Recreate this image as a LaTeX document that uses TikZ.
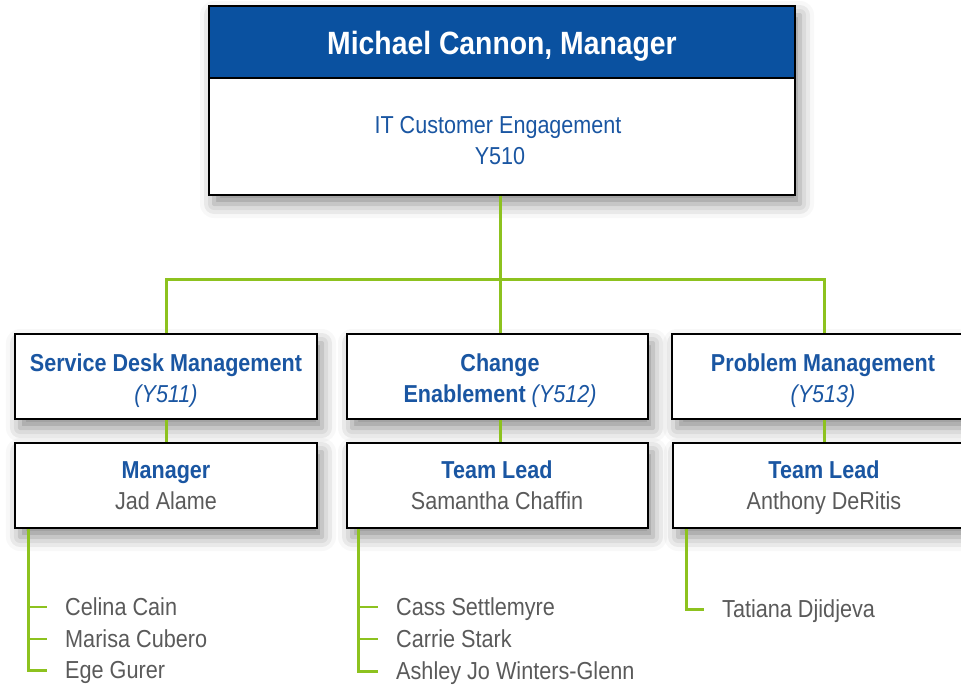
\documentclass[tikz,border=0pt]{standalone}
\usepackage{fontspec}
\setmainfont{Liberation Sans}[FakeStretch=0.88]
\usetikzlibrary{shadows.blur}
\definecolor{hdrblue}{HTML}{0A51A0}
\definecolor{txtblue}{HTML}{1A56A2}
\definecolor{lgreen}{HTML}{8DC21F}
\definecolor{gtext}{HTML}{5A5A5A}
\begin{document}
\begin{tikzpicture}[x=1pt,y=-1pt,
  box/.style={draw=black, line width=2pt, fill=white, inner sep=0pt,
    blur shadow={shadow xshift=5pt, shadow yshift=-9pt, shadow blur radius=14pt, shadow opacity=45}},
  conn/.style={draw=lgreen, line width=3pt},
  tick/.style={draw=lgreen, line width=2.5pt},
  ln/.style={inner sep=0pt, text height=17pt, text depth=0pt, font=\fontsize{24.5}{30}\selectfont},
  ttl/.style={ln, text=txtblue, font=\fontsize{24.5}{30}\selectfont\bfseries},
  code/.style={ln, text=txtblue, font=\fontsize{24.5}{30}\selectfont\itshape},
  person/.style={ln, text=gtext},
  staff/.style={ln, anchor=west, text=gtext, font=\fontsize{24.6}{30}\selectfont}]
\useasboundingbox (0,0) rectangle (961,688);
% top box
\node[box, minimum width=586pt, minimum height=189pt] (topbox) at (502,100.5) {};
\node[draw=black, line width=2pt, fill=hdrblue, minimum width=586pt, minimum height=72pt, inner sep=0pt] (hdr) at (502,42) {};
\node[inner sep=0pt, text height=22pt, text depth=0pt, text=white, font=\fontsize{32.2}{34}\selectfont\bfseries] (hdrt) at (502,43) {Michael Cannon, Manager};
\node[ln, text=txtblue] (dept) at (498,125) {IT Customer Engagement};
\node[ln, text=txtblue] (deptc) at (500,156) {Y510};
% bus
\coordinate (bus) at (500,279);
\coordinate (topout) at (500,196);
% upper boxes
\node[box, minimum width=302pt, minimum height=85pt] (u1) at (166,376.5) {};
\node[box, minimum width=301pt, minimum height=85pt] (u2) at (497.5,376.5) {};
\node[box, minimum width=302pt, minimum height=85pt] (u3) at (823,376.5) {};
\node[ttl] (u1a) at (166,363) {Service Desk Management};
\node[code] (u1b) at (166,394) {(Y511)};
\node[ttl] (u2a) at (500,363) {Change};
\node[ln, text=txtblue] (u2b) at (500,394) {\bfseries Enablement \mdseries\itshape(Y512)};
\node[ttl] (u3a) at (823,363) {Problem Management};
\node[code] (u3b) at (823,394) {(Y513)};
% lower boxes
\node[box, minimum width=302pt, minimum height=85pt] (l1) at (166,485.5) {};
\node[box, minimum width=301pt, minimum height=85pt] (l2) at (497.5,485.5) {};
\node[box, minimum width=302pt, minimum height=85pt] (l3) at (824,485.5) {};
\node[ttl] (l1a) at (166,470) {Manager};
\node[person] (l1b) at (166,501) {Jad Alame};
\node[ttl] (l2a) at (497,470) {Team Lead};
\node[person] (l2b) at (497,501) {Samantha Chaffin};
\node[ttl] (l3a) at (824,470) {Team Lead};
\node[person] (l3b) at (824,501) {Anthony DeRitis};
% connectors
\draw[conn] (topout) -- (bus);
\draw[conn] (u1.north) -- (u1.north |- bus) -- (bus) -- (bus -| 824,0) -- (u3.north -| 824,0);
\draw[conn] (u2.north -| 500,0) -- (bus);
\draw[conn] (u1.south) -- (l1.north);
\draw[conn] (u2.south -| 500,0) -- (l2.north -| 500,0);
\draw[conn] (u3.south -| 824,0) -- (l3.north -| 824,0);
% staff
\node[staff] (s11) at (65,607) {Celina Cain};
\node[staff] (s12) at (65,639) {Marisa Cubero};
\node[staff] (s13) at (65,670) {Ege Gurer};
\node[staff] (s21) at (396,607) {Cass Settlemyre};
\node[staff] (s22) at (396,639) {Carrie Stark};
\node[staff] (s23) at (396,671) {Ashley Jo Winters-Glenn};
\node[staff] (s31) at (722,609) {Tatiana Djidjeva};
\coordinate (v1) at (28,529);
\coordinate (v2) at (358,529);
\coordinate (v3) at (686,529);
\draw[conn] (v1) -- (v1 |- s13.west) -- ++(19,0);
\draw[tick] (v1 |- s11.west) -- ++(19,0);
\draw[tick] (v1 |- s12.west) -- ++(19,0);
\draw[conn] (v2) -- (v2 |- s23.west) -- ++(20,0);
\draw[tick] (v2 |- s21.west) -- ++(20,0);
\draw[tick] (v2 |- s22.west) -- ++(20,0);
\draw[conn] (v3) -- (v3 |- s31.west) -- ++(18,0);
\end{tikzpicture}
\end{document}
